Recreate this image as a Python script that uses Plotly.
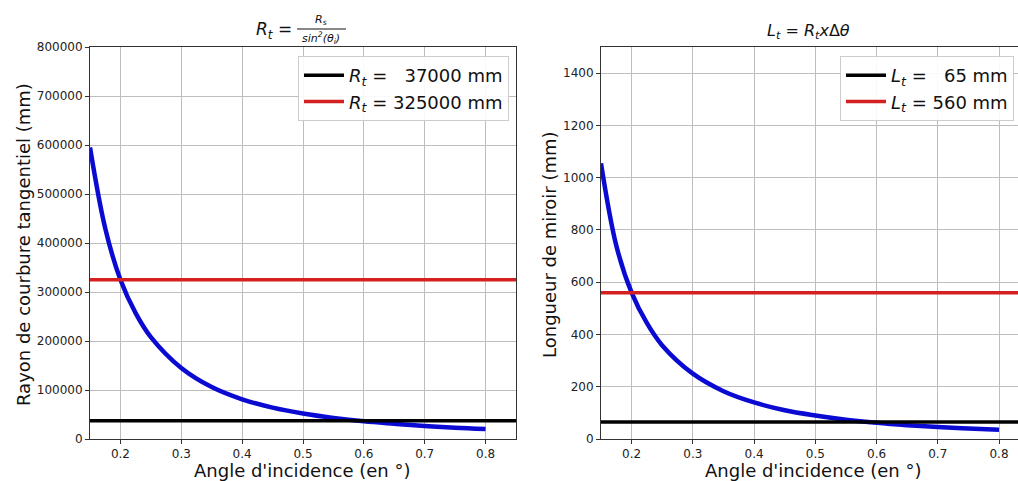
import plotly.graph_objects as go

# ---- data ----
angles = [0.15, 0.175, 0.2, 0.225, 0.25, 0.3, 0.35, 0.4, 0.45, 0.5, 0.55, 0.6, 0.65, 0.7, 0.75, 0.8]
rayon_mm = [595000, 430000, 325000, 257000, 208000, 145000, 106000, 81000, 64000, 52000,
            43000, 36000, 31000, 26500, 23000, 20300]
longueur_mm = [1055, 740, 560, 443, 358, 250, 183, 140, 110, 90, 74, 62, 53, 46, 40, 35]

rt_levels = [37000, 325000]
lt_levels = [65, 560]
level_colors = ["#000000", "#d42020"]
rt_names = ["<i>R<sub>t</sub></i> =\u00a0\u00a0\u00a037000 mm", "<i>R<sub>t</sub></i> = 325000 mm"]
lt_names = ["<i>L<sub>t</sub></i> =\u00a0\u00a0\u00a065 mm", "<i>L<sub>t</sub></i> = 560 mm"]

x_lim = [0.15, 0.85]
x_ticks = [0.2, 0.3, 0.4, 0.5, 0.6, 0.7, 0.8]
rt_ticks = [0, 100000, 200000, 300000, 400000, 500000, 600000, 700000, 800000]
lt_ticks = [0, 200, 400, 600, 800, 1000, 1200, 1400]

W, H = 1018, 481
FONT = "DejaVu Sans"
BLUE = "#0a0ad2"
TXT = "#111111"


def px(x):
    return x / W


def py(y):
    return 1 - y / H


fig = go.Figure()

# left subplot
fig.add_trace(go.Scatter(x=angles, y=rayon_mm, mode="lines", line=dict(color=BLUE, width=4.5, shape="spline"),
                         showlegend=False, xaxis="x", yaxis="y"))
for lvl, col, nm in zip(rt_levels, level_colors, rt_names):
    fig.add_trace(go.Scatter(x=x_lim, y=[lvl, lvl], mode="lines", line=dict(color=col, width=3.5),
                             name=nm, legend="legend", xaxis="x", yaxis="y"))

# right subplot
fig.add_trace(go.Scatter(x=angles, y=longueur_mm, mode="lines", line=dict(color=BLUE, width=4.5, shape="spline"),
                         showlegend=False, xaxis="x2", yaxis="y2"))
for lvl, col, nm in zip(lt_levels, level_colors, lt_names):
    fig.add_trace(go.Scatter(x=x_lim, y=[lvl, lvl], mode="lines", line=dict(color=col, width=3.5),
                             name=nm, legend="legend2", xaxis="x2", yaxis="y2"))

ax_common = dict(showgrid=True, gridcolor="#bdbdbd", gridwidth=1, showline=True, linecolor="#333333",
                 linewidth=1, ticks="outside", ticklen=4, tickcolor="#333333", zeroline=False,
                 tickfont=dict(family=FONT, size=12, color="#222222"))

yd = [py(439), py(47)]
fig.update_layout(
    width=W, height=H, margin=dict(l=0, r=0, t=0, b=0, autoexpand=False),
    paper_bgcolor="white", plot_bgcolor="white",
    font=dict(family=FONT, color=TXT),
    xaxis=dict(domain=[px(90), px(516)], range=x_lim, tickvals=x_ticks, ticktext=[str(t) for t in x_ticks],
               mirror=True, anchor="y", **ax_common),
    yaxis=dict(domain=yd, range=[0, 800000], tickvals=rt_ticks, tickformat="d", mirror=True, anchor="x",
               **ax_common),
    xaxis2=dict(domain=[px(601), 1.0], range=[0.15, 0.831], tickvals=x_ticks,
                ticktext=[str(t) for t in x_ticks], mirror=True, anchor="y2", **ax_common),
    yaxis2=dict(domain=yd, range=[0, 1500], tickvals=lt_ticks, tickformat="d", mirror=False, anchor="x2",
                **ax_common),
    legend=dict(x=px(509), y=py(56), xanchor="right", yanchor="top", bgcolor="rgba(255,255,255,0.9)",
                bordercolor="#cccccc", borderwidth=1, font=dict(family=FONT, size=18, color=TXT),
                itemwidth=40, tracegroupgap=0),
    legend2=dict(x=px(1014), y=py(56), xanchor="right", yanchor="top", bgcolor="rgba(255,255,255,0.9)",
                 bordercolor="#cccccc", borderwidth=1, font=dict(family=FONT, size=18, color=TXT),
                 itemwidth=40, tracegroupgap=0),
)


def note(text, x, y, size, angle=0, xanchor="center"):
    return dict(text=text, x=px(x), y=py(y), xref="paper", yref="paper", xanchor=xanchor, yanchor="middle",
                showarrow=False, textangle=angle, font=dict(size=size, family=FONT, color=TXT))


ann = [
    note("Angle d'incidence (en °)", 302, 470, 18),
    note("Angle d'incidence (en °)", 813, 470, 18),
    note("Rayon de courbure tangentiel (mm)", 23, 245, 18, angle=-90),
    note("Longueur de miroir (mm)", 549, 245, 18, angle=-90),
    # left title: R_t = R_s / sin^2(theta_i)
    note("<i>R<sub>t</sub></i> =", 294, 30, 17, xanchor="right"),
    note("<i>R<sub>s</sub></i>", 321, 20, 11),
    note("<i>sin<sup>2</sup>(θ<sub>i</sub>)</i>", 321, 38, 11),
    # right title
    note("<i>L<sub>t</sub></i> = <i>R<sub>t</sub>x</i>Δ<i>θ</i>", 808, 31, 16),
]
fig.update_layout(annotations=ann)

fig.add_shape(type="line", xref="paper", yref="paper", x0=px(297), x1=px(346), y0=py(29), y1=py(29),
              line=dict(color=TXT, width=1))

post = ("document.body.style.margin='0';document.body.style.overflow='hidden';"
        "var d=document.getElementById('{plot_id}');d.style.position='fixed';d.style.left='0px';d.style.top='0px';")
fig.write_html("out.html", post_script=post, config={"displayModeBar": False})
